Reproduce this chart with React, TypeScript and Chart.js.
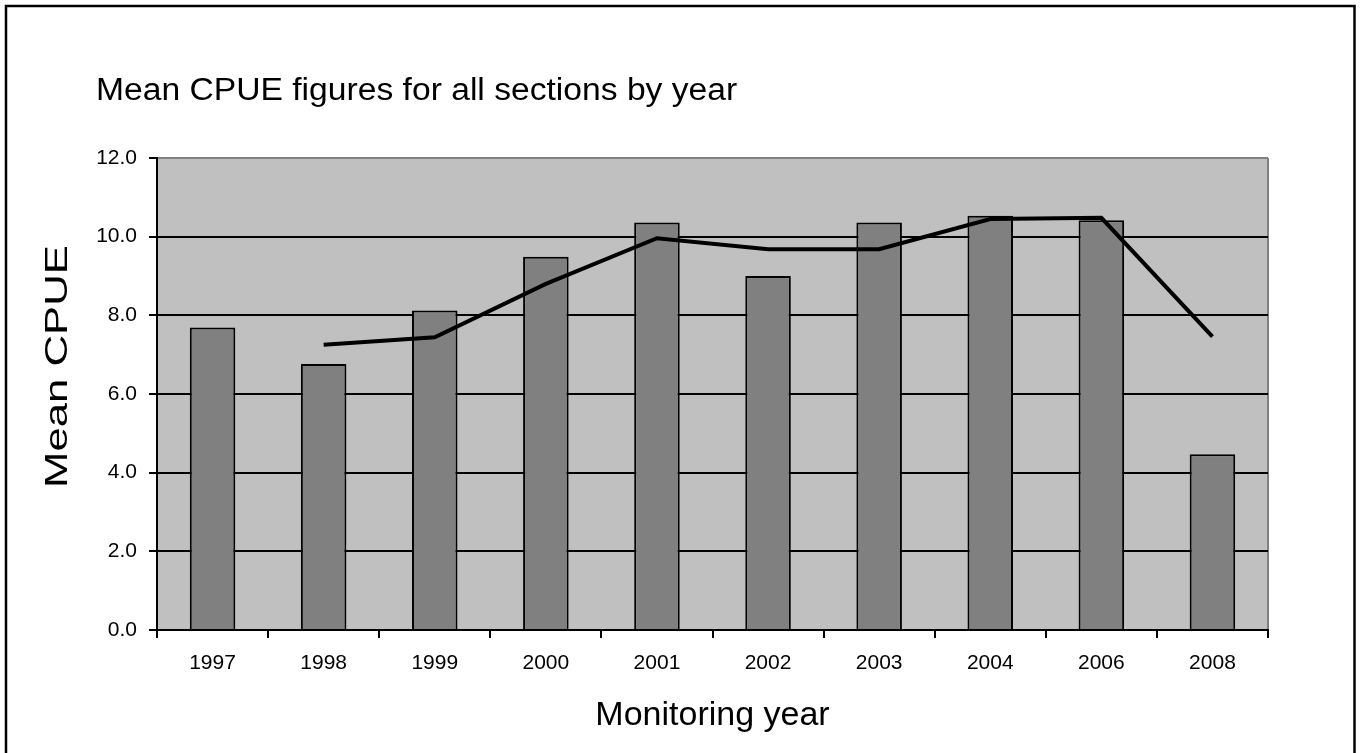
import React, { useEffect, useRef } from "react";
import { Chart, registerables } from "chart.js";

Chart.register(...registerables);

// Monitoring years shown on the category axis
const years = ["1997", "1998", "1999", "2000", "2001", "2002", "2003", "2004", "2006", "2008"];
// Mean CPUE per year (bars)
const meanCpue = [7.69, 6.76, 8.12, 9.49, 10.36, 9.0, 10.36, 10.53, 10.42, 4.47];
// Two-period moving average trend (line)
const movingAverage = [null, 7.25, 7.44, 8.8, 9.96, 9.68, 9.68, 10.45, 10.48, 7.46];
// Value axis ticks
const yTickValues = [0, 2, 4, 6, 8, 10, 12];

const chartTitle = "Mean CPUE figures for all sections by year";
const xTitle = "Monitoring year";
const yTitle = "Mean CPUE";

const FONT = '"Liberation Sans", Arial, sans-serif';

const plotFrame = {
  id: "plotFrame",
  beforeDraw(chart: any) {
    const { ctx, chartArea } = chart;
    const { left, top, right, bottom } = chartArea;
    ctx.save();
    ctx.fillStyle = "#c0c0c0";
    ctx.fillRect(left, top, right - left, bottom - top);
    ctx.strokeStyle = "#808080";
    ctx.lineWidth = 2;
    ctx.beginPath();
    ctx.moveTo(right, top);
    ctx.lineTo(right, bottom);
    ctx.stroke();
    ctx.restore();
  },
  afterDraw(chart: any) {
    const { ctx, chartArea } = chart;
    ctx.save();
    // outer chart border
    ctx.strokeStyle = "#000";
    ctx.lineWidth = 2.5;
    ctx.strokeRect(6, 6, 1348.5, 820);

    ctx.fillStyle = "#000";
    // chart title
    ctx.save();
    ctx.font = `31px ${FONT}`;
    ctx.textAlign = "left";
    ctx.textBaseline = "alphabetic";
    ctx.translate(96, 100);
    ctx.scale(1.085, 1);
    ctx.fillText(chartTitle, 0, 0);
    ctx.restore();

    // category axis title
    ctx.save();
    ctx.font = `34px ${FONT}`;
    ctx.textAlign = "center";
    ctx.textBaseline = "alphabetic";
    ctx.fillText(xTitle, (chartArea.left + chartArea.right) / 2, 725);
    ctx.restore();

    // value axis title
    ctx.save();
    ctx.font = `31px ${FONT}`;
    ctx.textAlign = "center";
    ctx.textBaseline = "alphabetic";
    ctx.translate(67, 366.5);
    ctx.rotate(-Math.PI / 2);
    ctx.scale(1.41, 1);
    ctx.fillText(yTitle, 0, 0);
    ctx.restore();

    ctx.restore();
  },
};

export default function App() {
  const canvasRef = useRef<HTMLCanvasElement | null>(null);

  useEffect(() => {
    if (!canvasRef.current) return;
    const chart = new Chart(canvasRef.current, {
      type: "bar",
      data: {
        labels: years,
        datasets: [
          {
            type: "line",
            label: "Moving average",
            data: movingAverage,
            borderColor: "#000",
            borderWidth: 4,
            pointRadius: 0,
            tension: 0,
            fill: false,
            order: 0,
          } as any,
          {
            type: "bar",
            label: "Mean CPUE",
            data: meanCpue,
            backgroundColor: "#808080",
            borderColor: "#000",
            borderWidth: 2,
            barPercentage: 0.41,
            categoryPercentage: 1,
            order: 1,
          },
        ],
      },
      options: {
        responsive: true,
        maintainAspectRatio: false,
        animation: false,
        layout: { padding: { left: 0, top: 158, right: 94, bottom: 0 } },
        plugins: {
          legend: { display: false },
          tooltip: { enabled: false },
          title: { display: false },
        },
        scales: {
          x: {
            afterFit(scale: any) {
              scale.height = 123;
            },
            grid: {
              offset: true,
              drawOnChartArea: false,
              drawTicks: true,
              tickLength: 8,
              color: "#000",
              lineWidth: 2,
            },
            border: { color: "#000", width: 2 },
            ticks: {
              color: "#000",
              font: { family: FONT, size: 21 },
              padding: 13,
              maxRotation: 0,
              autoSkip: false,
            },
          },
          y: {
            min: 0,
            max: 12,
            afterFit(scale: any) {
              scale.width = 157;
            },
            afterBuildTicks(scale: any) {
              scale.ticks = yTickValues.map((v) => ({ value: v }));
            },
            grid: {
              color: (c: any) => (c.tick && c.tick.value === 12 ? "#808080" : "#000"),
              lineWidth: 2,
              tickColor: "#000",
              tickLength: 8,
              drawTicks: true,
            },
            border: { color: "#000", width: 2 },
            ticks: {
              color: "#000",
              font: { family: FONT, size: 21 },
              padding: 12,
              callback: (v: any) => Number(v).toFixed(1),
            },
          },
        },
      },
      plugins: [plotFrame],
    });
    return () => chart.destroy();
  }, []);

  return (
    <div style={{ position: "absolute", left: 0, top: 0, width: 1362, height: 753, background: "#fff" }}>
      <canvas ref={canvasRef} />
    </div>
  );
}
